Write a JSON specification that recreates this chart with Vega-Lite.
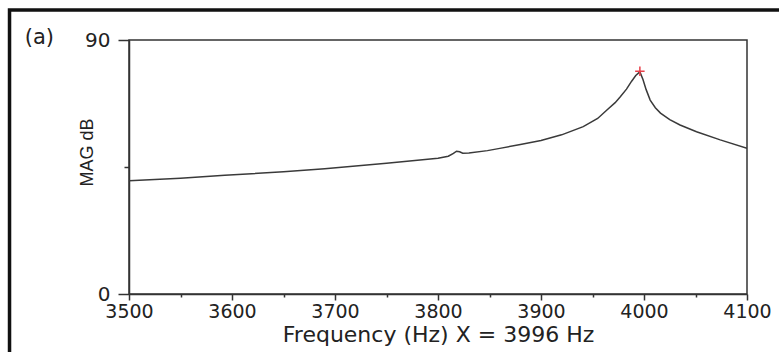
{
  "$schema": "https://vega.github.io/schema/vega-lite/v6.json",
  "width": 618,
  "height": 254,
  "autosize": {"type": "none"},
  "padding": {"left": 129, "top": 40, "right": 32, "bottom": 58},
  "background": "white",
  "datasets": {
    "curve": [
      {"freq": 3500, "mag": 40.1},
      {"freq": 3550, "mag": 41.0},
      {"freq": 3593, "mag": 42.1},
      {"freq": 3650, "mag": 43.3},
      {"freq": 3690, "mag": 44.4},
      {"freq": 3750, "mag": 46.3},
      {"freq": 3800, "mag": 48.1},
      {"freq": 3810, "mag": 48.8},
      {"freq": 3815, "mag": 49.8},
      {"freq": 3818, "mag": 50.6},
      {"freq": 3821, "mag": 50.4},
      {"freq": 3824, "mag": 49.9},
      {"freq": 3830, "mag": 50.0},
      {"freq": 3848, "mag": 50.8},
      {"freq": 3860, "mag": 51.6},
      {"freq": 3880, "mag": 53.0},
      {"freq": 3900, "mag": 54.4},
      {"freq": 3920, "mag": 56.4},
      {"freq": 3941, "mag": 59.3},
      {"freq": 3955, "mag": 62.2},
      {"freq": 3964, "mag": 65.2},
      {"freq": 3972, "mag": 67.8},
      {"freq": 3977, "mag": 69.9},
      {"freq": 3983, "mag": 72.6},
      {"freq": 3988, "mag": 75.4},
      {"freq": 3992, "mag": 77.4},
      {"freq": 3996, "mag": 78.7},
      {"freq": 3999, "mag": 76.0},
      {"freq": 4002, "mag": 72.5},
      {"freq": 4006, "mag": 68.7},
      {"freq": 4011, "mag": 66.0},
      {"freq": 4016, "mag": 64.1},
      {"freq": 4025, "mag": 61.8},
      {"freq": 4035, "mag": 59.9},
      {"freq": 4051, "mag": 57.5},
      {"freq": 4074, "mag": 54.6},
      {"freq": 4100, "mag": 51.6}
    ],
    "marker": [{"freq": 3996, "mag": 78.9}],
    "frame": [{"x1": 3384, "x2": 4220, "y1": 100.6, "y2": -40}],
    "panel": [{"freq": 3413, "mag": 90.6, "label": "(a)"}]
  },
  "layer": [
    {
      "data": {"name": "curve"},
      "mark": {"type": "line", "color": "#3a3a3a", "strokeWidth": 1.5, "clip": true},
      "encoding": {
        "x": {"field": "freq", "type": "quantitative", "scale": {"domain": [3500, 4100], "nice": false, "zero": false},
          "axis": {"orient": "bottom", "values": [3500, 3600, 3700, 3800, 3900, 4000, 4100], "format": "d", "tickSize": 6, "labelPadding": 2, "labelFontSize": 19, "title": "Frequency (Hz) X = 3996 Hz", "titleFontSize": 22, "titlePadding": 3, "grid": false}},
        "y": {"field": "mag", "type": "quantitative", "scale": {"domain": [0, 90], "nice": false},
          "axis": {"orient": "left", "values": [0, 90], "format": "d", "tickSize": 11, "labelPadding": 8, "title": "MAG dB", "titleFont": "Liberation Sans", "titleFontSize": 18, "titleAngle": -90, "titleBaseline": "bottom", "titleAlign": "center", "titleX": -33, "titleY": 112, "grid": false}}
      }
    },
    {
      "data": {"name": "marker"},
      "mark": {"type": "point", "shape": "M-1,0H1M0,-1V1", "filled": false, "stroke": "#e8404a", "strokeWidth": 1.5, "size": 90, "opacity": 1},
      "encoding": {
        "x": {"field": "freq", "type": "quantitative",
          "axis": {"orient": "bottom", "values": [3550, 3650, 3750, 3850, 3950, 4050], "tickSize": 3, "labels": false, "domain": false, "title": null, "grid": false}},
        "y": {"field": "mag", "type": "quantitative",
          "axis": {"orient": "left", "values": [45], "tickSize": 5, "labels": false, "domain": false, "title": null, "grid": false}}
      }
    },
    {
      "data": {"name": "panel"},
      "mark": {"type": "text", "font": "DejaVu Sans", "fontSize": 21, "color": "#222", "align": "center", "baseline": "middle", "clip": false},
      "encoding": {
        "x": {"field": "freq", "type": "quantitative", "axis": null},
        "y": {"field": "mag", "type": "quantitative", "axis": null},
        "text": {"field": "label"}
      }
    },
    {
      "data": {"name": "frame"},
      "mark": {"type": "rect", "fill": null, "stroke": "#111", "strokeWidth": 3.5, "clip": false},
      "encoding": {
        "x": {"field": "x1", "type": "quantitative", "axis": null},
        "x2": {"field": "x2"},
        "y": {"field": "y1", "type": "quantitative", "axis": null},
        "y2": {"field": "y2"}
      }
    }
  ],
  "resolve": {"axis": {"x": "independent", "y": "independent"}},
  "config": {
    "view": {"stroke": "#333", "strokeWidth": 1.5},
    "axis": {"domainColor": "#333", "domainWidth": 1.5, "tickColor": "#333", "tickWidth": 1.5, "labelFont": "DejaVu Sans", "labelFontSize": 20, "labelColor": "#222", "titleFont": "DejaVu Sans", "titleFontWeight": "normal", "titleColor": "#222", "labelFlush": false, "labelOverlap": false}
  }
}
